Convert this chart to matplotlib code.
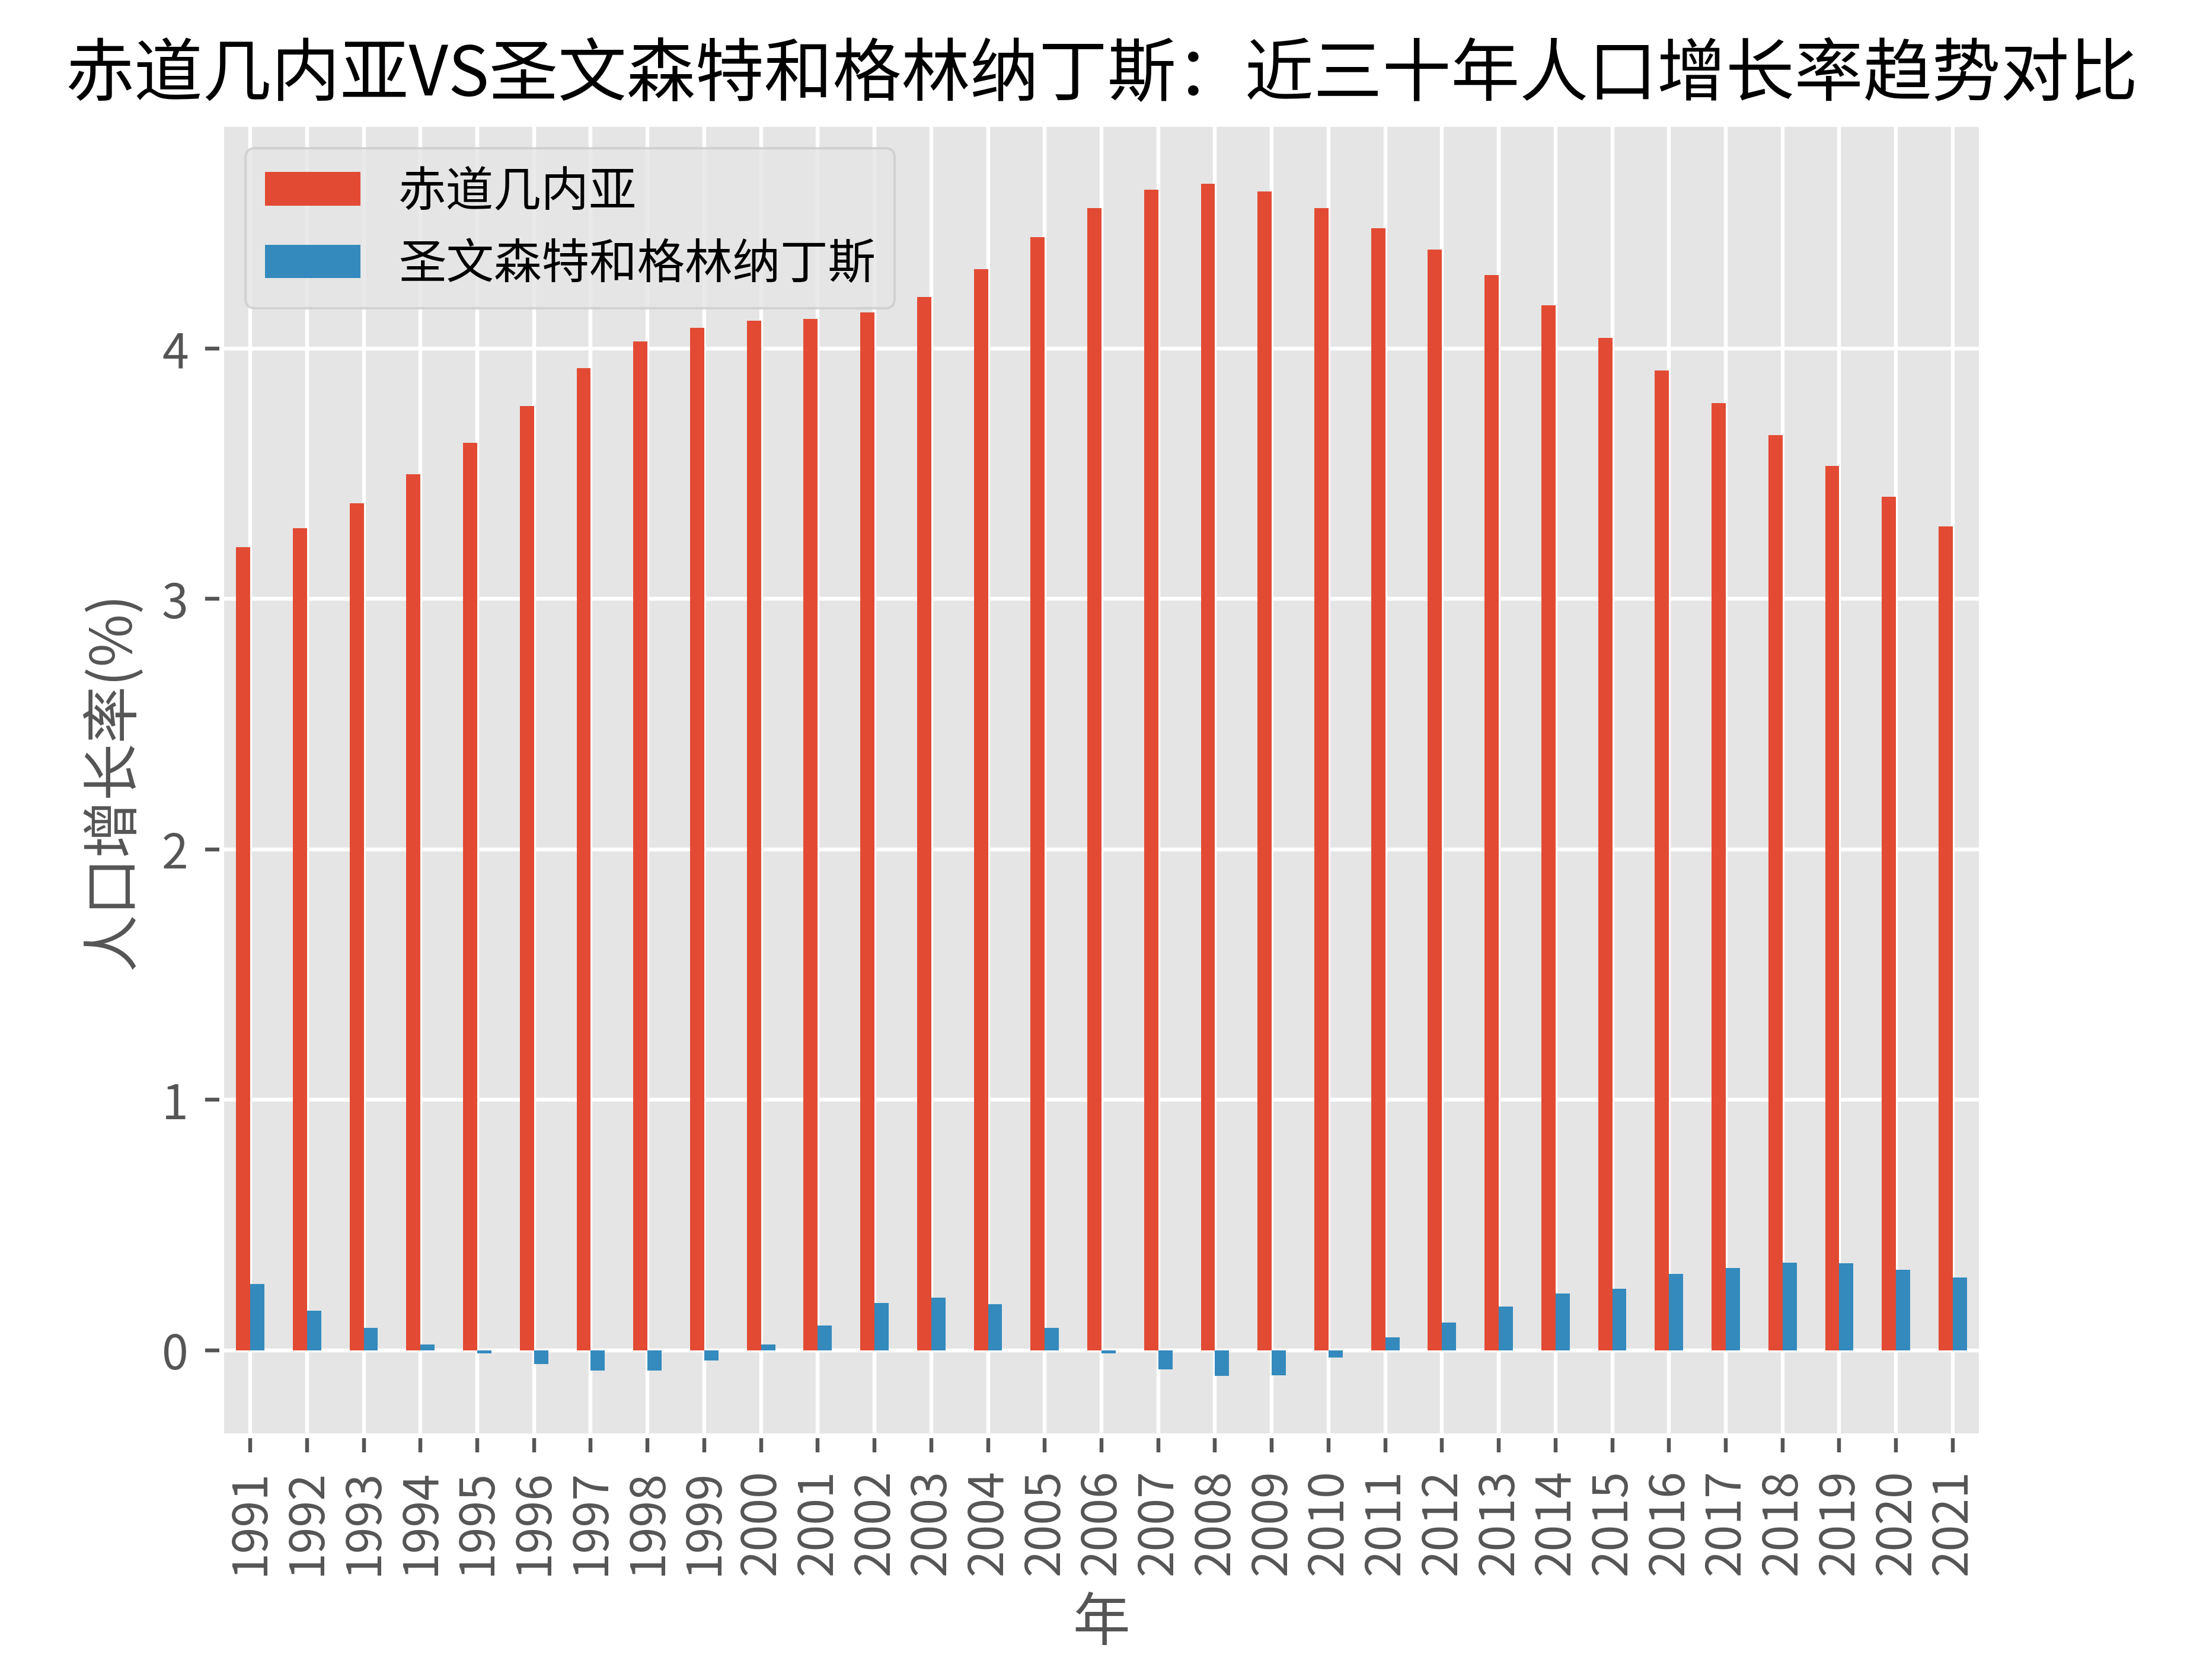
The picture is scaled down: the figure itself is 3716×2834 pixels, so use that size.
import matplotlib
matplotlib.use("Agg")
import matplotlib.pyplot as plt
import pandas as pd

plt.style.use('ggplot')
plt.rcParams['font.family'] = ['Noto Sans CJK SC', 'DejaVu Sans']
plt.rcParams['axes.unicode_minus'] = False

years = [str(y) for y in range(1991, 2022)]

# 赤道几内亚 population growth (%)
gq = [3.207, 3.282, 3.381, 3.499, 3.624, 3.769, 3.922, 4.027, 4.083, 4.112,
      4.118, 4.145, 4.206, 4.317, 4.445, 4.560, 4.634, 4.657, 4.627, 4.560,
      4.480, 4.395, 4.293, 4.172, 4.043, 3.911, 3.783, 3.653, 3.530, 3.407,
      3.289]

# 圣文森特和格林纳丁斯 population growth (%)
vc = [0.265, 0.158, 0.090, 0.024, -0.013, -0.054, -0.080, -0.080, -0.040, 0.024,
      0.100, 0.189, 0.210, 0.184, 0.090, -0.012, -0.077, -0.103, -0.099, -0.028,
      0.052, 0.111, 0.175, 0.227, 0.246, 0.305, 0.329, 0.350, 0.348, 0.322,
      0.291]

df = pd.DataFrame({'赤道几内亚': gq, '圣文森特和格林纳丁斯': vc}, index=years)

fig, ax = plt.subplots(figsize=(3716/580, 2834/580), dpi=580)
df.plot(kind='bar', ax=ax)
ax.set_title('赤道几内亚VS圣文森特和格林纳丁斯：近三十年人口增长率趋势对比')
ax.set_xlabel('年')
ax.set_ylabel('人口增长率(%)')
ax.legend(loc='upper left')

plt.subplots_adjust(left=0.1007, right=0.8993, top=0.926, bottom=0.1454)
plt.savefig('out.png', dpi=580)
